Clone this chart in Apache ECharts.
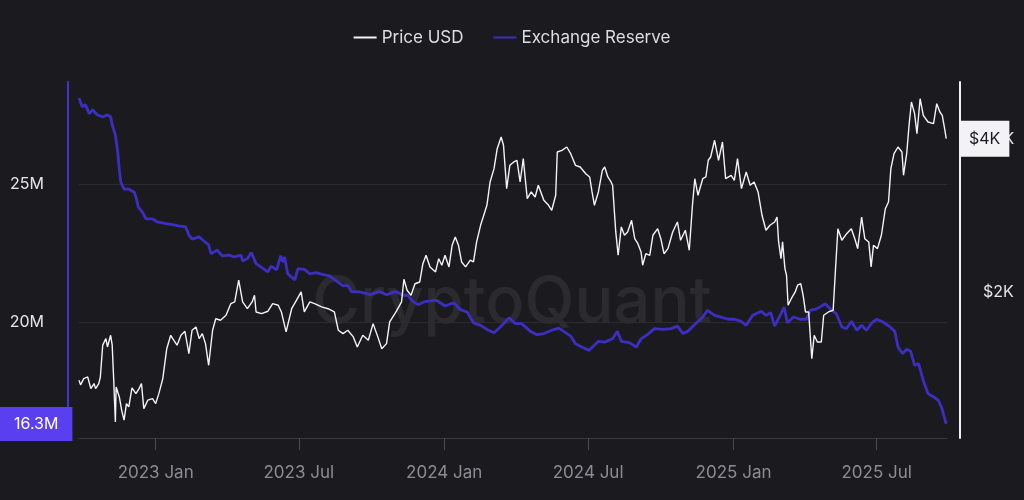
<!DOCTYPE html>
<html lang="en">
<head>
<meta charset="UTF-8">
<title>Exchange Reserve vs Price USD</title>
<style>
  html, body { margin: 0; padding: 0; background: #1b1a1f; }
  #container { width: 1024px; height: 500px; }
</style>
</head>
<body>
<div id="container"></div>
<script src="https://cdn.jsdelivr.net/npm/echarts@6/dist/echarts.min.js"></script>
<script>
  // dates are stored as day offsets from the first point
  var startDate = Date.UTC(2022, 8, 26);
  var endDay = 1098;
  var DAY = 86400000;
  var monthNames = { 0: 'Jan', 6: 'Jul' };

  // Price USD (right axis, log)
  var priceDays = [0,2,6,11,15,19,21,25,27,30,
    34,36,40,42,44,46,47,51,54,57,
    60,63,67,72,76,79,82,87,93,97,
    101,106,111,116,120,124,129,134,139,143,
    148,152,156,160,164,169,173,179,186,192,
    197,202,207,213,219,222,224,231,239,245,
    252,256,262,269,275,281,285,292,298,307,
    315,323,328,334,340,347,352,359,366,372,
    378,383,389,393,401,408,411,415,420,425,
    431,435,439,444,451,455,459,463,468,472,
    476,480,484,489,495,499,503,508,512,516,
    520,525,529,534,537,541,545,550,554,558,
    562,567,572,577,581,588,594,598,603,605,
    611,617,622,628,634,641,646,649,652,657,
    662,665,669,673,675,679,682,686,690,694,
    699,703,707,711,713,717,722,726,732,736,
    740,745,751,757,761,767,772,776,779,783,
    789,793,796,799,804,809,814,818,825,829,
    833,838,844,849,854,859,864,869,874,880,
    883,885,888,890,893,895,897,901,906,909,
    913,916,919,923,927,930,934,939,942,948,
    954,957,960,965,971,977,982,985,990,994,
    999,1002,1005,1010,1015,1020,1024,1027,1031,1036,
    1041,1043,1047,1050,1053,1057,1060,1064,1068,1074,
    1081,1085,1089,1092,1095,1097];
  var priceUsd = [1347,1319,1357,1367,1297,1327,1297,1327,1367,1578,
    1625,1565,1650,1578,1337,1116,1307,1249,1176,1125,
    1212,1194,1301,1268,1297,1327,1185,1231,1240,1212,
    1268,1357,1553,1650,1613,1578,1650,1680,1519,1688,
    1713,1625,1662,1589,1441,1688,1778,1766,1806,1903,
    1918,2115,1918,1860,1918,1976,1833,1819,1839,1903,
    1889,1833,1675,1860,1932,2006,1833,1918,1903,1875,
    1860,1833,1688,1662,1688,1638,1565,1650,1613,1739,
    1638,1553,1589,1752,1833,1918,2124,2022,1976,2082,
    2098,2279,2367,2246,2196,2331,2263,2367,2246,2476,
    2571,2476,2297,2246,2315,2297,2514,2710,2835,2966,
    3295,3499,3829,4036,3888,3197,3552,3606,3634,3295,
    3660,3056,3150,3079,3246,3034,2966,2900,3103,3772,
    3801,3858,3743,3552,3525,3420,3370,3150,2966,3150,
    3473,3525,3370,3295,3246,2630,2367,2690,2591,2630,
    2772,2551,2494,2403,2263,2384,2367,2591,2669,2551,
    2384,2439,2630,2751,2533,2650,2421,2966,3344,3103,
    3344,3370,3634,3688,3977,3634,3946,3344,3396,3320,
    3660,3197,3447,3246,3295,3150,2835,2650,2710,2751,
    2813,2514,2331,2514,2229,2163,1889,1946,2006,2068,
    2082,1976,1833,1833,1485,1650,1601,1601,1806,1833,
    1847,2229,2669,2533,2609,2669,2533,2439,2813,2551,
    2514,2246,2476,2439,2591,2921,3011,3499,3743,3858,
    3772,3396,3743,4255,4726,4484,4097,4797,4451,4319,
    4286,4690,4518,4451,4190,4005];

  // Exchange Reserve in millions (left axis)
  var reserveDays = [0,4,8,13,17,23,30,36,40,42,
    46,49,51,53,57,63,70,73,75,80,
    85,93,99,110,118,126,135,139,143,152,
    158,164,167,175,181,190,196,205,207,213,
    218,224,233,239,243,250,255,258,260,264,
    273,277,285,292,300,309,317,326,334,340,
    345,355,368,380,389,401,410,416,422,429,
    436,452,463,474,482,491,499,508,516,525,
    533,544,552,560,571,579,588,598,607,613,
    622,628,636,645,651,657,665,675,681,686,
    696,705,711,719,728,738,749,757,764,770,
    778,789,795,804,812,821,829,837,844,852,
    863,869,875,880,887,892,896,904,912,920,
    925,933,937,944,950,958,965,971,977,984,
    990,996,1003,1009,1017,1026,1032,1036,1042,1047,
    1052,1057,1062,1068,1074,1081,1087,1091,1097];
  var reserveM = [28.13,27.81,27.89,27.56,27.70,27.52,27.44,27.52,27.44,27.15,
    26.79,26.17,25.51,25.07,24.82,24.82,24.71,24.43,24.18,23.99,
    23.74,23.74,23.63,23.57,23.53,23.49,23.45,23.16,23.01,23.09,
    22.94,22.80,22.48,22.61,22.40,22.43,22.36,22.43,22.21,22.30,
    22.52,22.12,21.94,21.82,22.03,21.89,22.40,22.18,22.36,21.75,
    21.53,21.94,21.91,21.75,21.79,21.72,21.67,21.48,21.31,21.33,
    21.09,21.09,20.99,21.11,20.99,21.11,20.97,20.97,20.75,20.63,
    20.73,20.79,20.58,20.70,20.46,20.36,19.97,19.88,19.73,19.61,
    19.82,20.15,19.94,19.94,19.66,19.54,19.58,19.70,19.78,19.66,
    19.49,19.21,19.09,18.97,19.13,19.30,19.27,19.39,19.66,19.30,
    19.25,19.09,19.39,19.54,19.76,19.73,19.76,19.85,19.58,19.66,
    19.88,20.18,20.42,20.24,20.18,20.10,20.10,20.03,19.88,20.24,
    20.39,20.24,20.34,19.85,20.24,20.54,19.97,20.18,20.10,20.10,
    20.42,20.48,20.54,20.66,20.48,20.30,19.82,19.76,20.03,19.70,
    19.88,19.70,19.97,20.10,20.00,19.82,19.66,19.09,18.85,19.01,
    18.94,18.43,18.49,17.88,17.40,17.28,17.16,16.91,16.30];

  var priceData = priceDays.map(function (d, i) {
    return [startDate + d * DAY, priceUsd[i] / 1000]; // thousands of USD
  });
  var reserveData = reserveDays.map(function (d, i) {
    return [startDate + d * DAY, reserveM[i]];
  });
  var lastPrice = priceUsd[priceUsd.length - 1] / 1000;
  var lastReserve = reserveM[reserveM.length - 1];

  var chart = echarts.init(document.getElementById('container'));
  var option = {
    backgroundColor: '#1b1a1f',
    useUTC: true,
    animation: false,
    textStyle: { fontFamily: 'Inter, "Noto Sans", sans-serif' },
    legend: {
      top: 24,
      left: 'center',
      icon: 'rect',
      itemWidth: 23,
      itemHeight: 2,
      itemGap: 30,
      textStyle: { color: '#dedde3', fontSize: 17 },
      data: ['Price USD', 'Exchange Reserve']
    },
    graphic: [{
      type: 'text',
      left: 'center',
      top: 271,
      silent: true,
      z: 0,
      style: {
        text: 'CryptoQuant',
        fontSize: 65,
        fontWeight: 500,
        fontFamily: 'Inter, sans-serif',
        fill: 'rgba(255,255,255,0.07)'
      }
    }],
    grid: { left: 79, right: 77, top: 82, bottom: 62 },
    xAxis: {
      type: 'time',
      min: startDate,
      max: startDate + endDay * DAY,
      splitNumber: 6,
      axisLine: { lineStyle: { color: '#3a3940' } },
      axisTick: { length: 12, lineStyle: { color: '#4a4950' } },
      axisLabel: {
        color: '#8d8c94',
        fontSize: 17,
        margin: 26,
        formatter: function (v) {
          var d = new Date(v);
          var m = d.getUTCMonth();
          if (d.getUTCDate() !== 1 || !monthNames[m]) return '';
          return d.getUTCFullYear() + ' ' + monthNames[m];
        }
      },
      splitLine: { show: false }
    },
    yAxis: [{
      type: 'value',
      position: 'left',
      offset: 11,
      min: 15.79,
      max: 28.71,
      splitNumber: 2,
      axisLine: { show: true, lineStyle: { color: '#4433cc', width: 2 } },
      axisTick: { show: false },
      axisLabel: {
        color: '#e6e5ea',
        fontSize: 16,
        margin: 24,
        showMinLabel: false,
        showMaxLabel: false,
        formatter: function (v) { return v + 'M'; }
      },
      splitLine: {
        show: true,
        showMinLine: false,
        showMaxLine: false,
        lineStyle: { color: '#2c2b31' }
      },
      axisPointer: {
        show: true,
        status: 'show',
        value: lastReserve,
        triggerTooltip: false,
        lineStyle: { opacity: 0 },
        label: {
          show: true,
          margin: 0,
          padding: [9, 14],
          fontSize: 16,
          color: '#ffffff',
          backgroundColor: '#5a3ff0',
          borderRadius: 0,
          formatter: function (p) { return p.value.toFixed(1) + 'M'; }
        }
      }
    }, {
      type: 'log',
      logBase: 2,
      position: 'right',
      offset: 13,
      min: 1.038,
      max: 5.173,
      axisLine: { show: true, lineStyle: { color: '#f0f0f2', width: 2 } },
      axisTick: { show: false },
      axisLabel: {
        color: '#e6e5ea',
        fontSize: 16,
        margin: 23,
        showMinLabel: false,
        showMaxLabel: false,
        formatter: function (v) { return '$' + Math.round(v) + 'K'; }
      },
      splitLine: { show: false },
      axisPointer: {
        show: true,
        status: 'show',
        value: lastPrice,
        triggerTooltip: false,
        lineStyle: { opacity: 0 },
        label: {
          show: true,
          margin: 0,
          padding: [10, 9],
          fontSize: 16,
          color: '#1b1a1f',
          backgroundColor: '#f3f3f6',
          borderRadius: 0,
          formatter: function (p) { return '$' + Math.round(p.value) + 'K'; }
        }
      }
    }],
    series: [{
      name: 'Price USD',
      type: 'line',
      yAxisIndex: 1,
      data: priceData,
      symbol: 'none',
      z: 3,
      itemStyle: { color: '#f4f4f6' },
      lineStyle: { color: '#f4f4f6', width: 1.4 }
    }, {
      name: 'Exchange Reserve',
      type: 'line',
      yAxisIndex: 0,
      data: reserveData,
      symbol: 'none',
      z: 2,
      itemStyle: { color: '#3d2ec2' },
      lineStyle: { color: '#3d2ec2', width: 2.8 }
    }]
  };
  chart.setOption(option);
</script>
</body>
</html>
